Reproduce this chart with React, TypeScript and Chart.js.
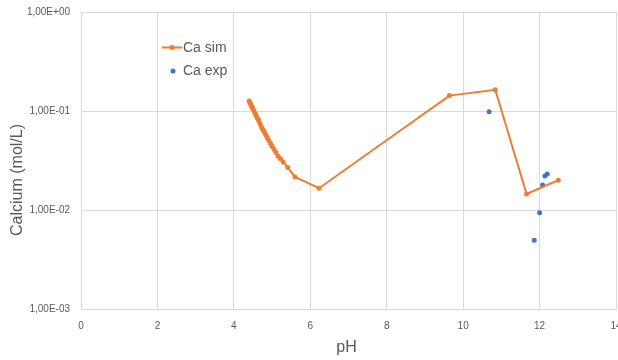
import React, { useEffect, useRef } from "react";
import { Chart, registerables } from "chart.js";

Chart.register(...registerables);

const simPH = [4.40, 4.42, 4.44, 4.46, 4.48, 4.50, 4.53, 4.56, 4.59, 4.62, 4.65, 4.68, 4.71, 4.74, 4.77, 4.80, 4.84, 4.88, 4.92, 4.96, 5.00, 5.05, 5.10, 5.16, 5.22, 5.29, 5.41, 5.60, 6.23, 9.64, 10.84, 11.66, 12.49];
const simCa = [0.126, 0.122, 0.117, 0.113, 0.109, 0.105, 0.100, 0.094, 0.089, 0.084, 0.080, 0.075, 0.071, 0.067, 0.064, 0.061, 0.057, 0.053, 0.050, 0.047, 0.044, 0.041, 0.038, 0.035, 0.033, 0.0306, 0.0269, 0.0216, 0.0166, 0.143, 0.164, 0.0145, 0.020];

const expPH = [10.68, 12.08, 12.14, 12.20, 12.00, 11.86];
const expCa = [0.098, 0.0179, 0.022, 0.0231, 0.0094, 0.00496];

const yTicks = [0.001, 0.01, 0.1, 1];
const xTickStep = 2;
const seriesNames = ["Ca sim", "Ca exp"];
const xTitle = "pH";
const yTitle = "Calcium (mol/L)";

const ORANGE = "#ED7D31";
const BLUE = "#4472C4";
const TEXT = "#595959";
const GRID = "#D9D9D9";
const FONT = "'Liberation Sans', Arial, sans-serif";

function fmtSci(v: number): string {
  const e = Math.round(Math.log10(v));
  const sign = e < 0 ? "-" : "+";
  const abs = Math.abs(e).toString().padStart(2, "0");
  return "1,00E" + sign + abs;
}

const decorPlugin = {
  id: "decor",
  afterDraw(chart: any) {
    const ctx = chart.ctx;
    const area = chart.chartArea;
    ctx.save();
    // legend
    ctx.font = `14px ${FONT}`;
    ctx.textBaseline = "middle";
    ctx.textAlign = "left";
    ctx.strokeStyle = ORANGE;
    ctx.lineWidth = 2;
    ctx.beginPath();
    ctx.moveTo(162, 47.5);
    ctx.lineTo(182, 47.5);
    ctx.stroke();
    ctx.fillStyle = ORANGE;
    ctx.beginPath();
    ctx.arc(172, 47.5, 2.5, 0, Math.PI * 2);
    ctx.fill();
    ctx.fillStyle = TEXT;
    ctx.fillText(seriesNames[0], 183, 48);
    ctx.fillStyle = BLUE;
    ctx.beginPath();
    ctx.arc(173, 71, 2.5, 0, Math.PI * 2);
    ctx.fill();
    ctx.fillStyle = TEXT;
    ctx.fillText(seriesNames[1], 183, 71);
    // axis titles
    ctx.font = `16px ${FONT}`;
    ctx.textAlign = "center";
    ctx.fillText(xTitle, (area.left + area.right) / 2 - 2, 348);
    ctx.translate(18, 180);
    ctx.rotate(-Math.PI / 2);
    ctx.fillText(yTitle, 0, 0);
    ctx.restore();
  },
};

export default function App() {
  const ref = useRef<HTMLCanvasElement | null>(null);
  useEffect(() => {
    if (!ref.current) return;
    const chart = new Chart(ref.current, {
      type: "scatter",
      data: {
        datasets: [
          {
            label: seriesNames[0],
            data: simPH.map((x, i) => ({ x, y: simCa[i] })),
            showLine: true,
            borderColor: ORANGE,
            backgroundColor: ORANGE,
            borderWidth: 2,
            pointRadius: 2.5,
            pointHoverRadius: 2.5,
            pointBorderWidth: 0,
          },
          {
            label: seriesNames[1],
            data: expPH.map((x, i) => ({ x, y: expCa[i] })),
            showLine: false,
            borderColor: BLUE,
            backgroundColor: BLUE,
            pointRadius: 2.5,
            pointHoverRadius: 2.5,
            pointBorderWidth: 0,
          },
        ],
      },
      options: {
        responsive: false,
        animation: false,
        layout: { padding: { top: 12, right: 14, left: 0, bottom: 0 } },
        plugins: {
          legend: { display: false },
          tooltip: { enabled: false },
        },
        scales: {
          x: {
            type: "linear",
            min: 0,
            max: 14,
            ticks: { stepSize: xTickStep, color: TEXT, font: { family: FONT, size: 10 }, padding: 11 },
            grid: { color: GRID, drawTicks: false },
            border: { color: GRID },
            afterFit: (s: any) => { s.height = 51; s.paddingLeft = 0; s.paddingRight = 0; },
          },
          y: {
            type: "logarithmic",
            min: 0.001,
            max: 1,
            afterBuildTicks: (s: any) => { s.ticks = yTicks.map((v) => ({ value: v })); },
            ticks: { color: TEXT, font: { family: FONT, size: 10 }, padding: 11, callback: (v: any) => fmtSci(Number(v)) },
            grid: { color: GRID, drawTicks: false },
            border: { color: GRID },
            afterFit: (s: any) => { s.width = 81; s.paddingTop = 0; s.paddingBottom = 0; },
          },
        },
      },
      plugins: [decorPlugin],
    } as any);
    return () => chart.destroy();
  }, []);
  return (
    <div style={{ position: "absolute", left: 0, top: 0, width: 618, height: 360, overflow: "hidden", background: "#fff" }}>
      <canvas ref={ref} width={630} height={360} style={{ display: "block" }} />
    </div>
  );
}
